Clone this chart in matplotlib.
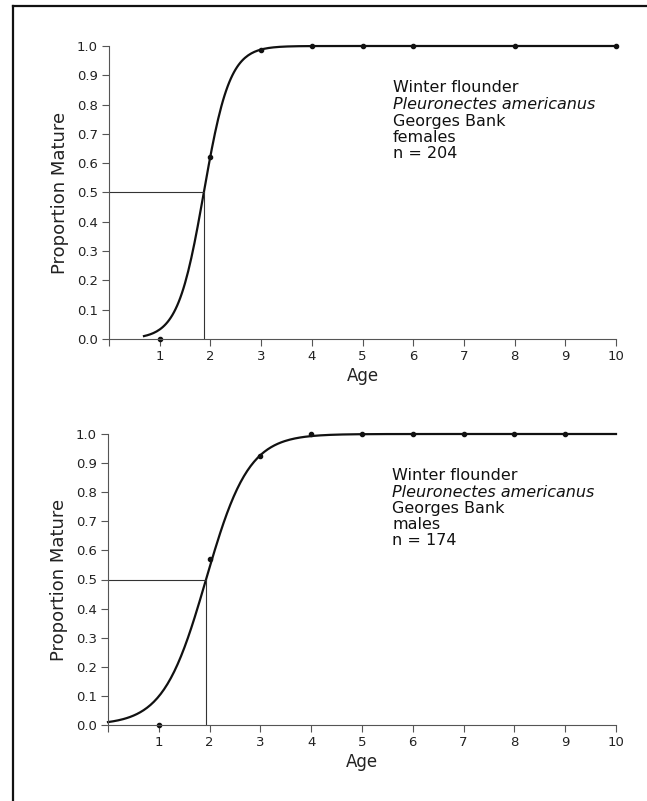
import matplotlib.pyplot as plt
import numpy as np
from matplotlib.lines import Line2D

plt.rcParams['font.family'] = ['DejaVu Sans']

# Observed proportion mature by age
ages_f = [1, 2, 3, 4, 5, 6, 8, 10]
mature_f = [0.0, 0.62, 0.985, 1.0, 1.0, 1.0, 1.0, 1.0]
ages_m = [1, 2, 3, 4, 5, 6, 7, 8, 9]
mature_m = [0.0, 0.57, 0.925, 1.0, 1.0, 1.0, 1.0, 1.0, 1.0]

# Fitted logistic: median age at maturity (A50) and slope
a50_f, slope_f, start_f = 1.87, 3.9, 0.69
a50_m, slope_m, start_m = 1.93, 2.38, 0.0

labels_f = ['Winter flounder', 'Pleuronectes americanus', 'Georges Bank', 'females', 'n = 204']
labels_m = ['Winter flounder', 'Pleuronectes americanus', 'Georges Bank', 'males', 'n = 174']

xticks = list(range(0, 11))
yticks = [round(0.1 * i, 1) for i in range(11)]

fig = plt.figure(figsize=(6.47, 8.01), dpi=100)

# frame lines around the figure (left and top only, as in the scan)
fig.add_artist(Line2D([13 / 647, 13 / 647], [0, 1 - 6 / 801], transform=fig.transFigure, color='#111111', lw=1.6))
fig.add_artist(Line2D([13 / 647, 1], [1 - 6 / 801, 1 - 6 / 801], transform=fig.transFigure, color='#111111', lw=1.6))


def panel(rect, ages, mature, a50, slope, x0, labels):
    ax = fig.add_axes(rect)
    xs = np.linspace(x0, 10, 300)
    ax.plot(xs, 1 / (1 + np.exp(-slope * (xs - a50))), color='#111111', lw=1.6, clip_on=False)
    ax.plot(ages, mature, 'o', color='#111111', ms=3, clip_on=False)
    ax.plot([0, a50], [0.5, 0.5], color='#333333', lw=0.8)
    ax.plot([a50, a50], [0, 0.5], color='#333333', lw=0.8)

    ax.set_xlim(0, 10)
    ax.set_ylim(0, 1.0)
    for s in ['top', 'right']:
        ax.spines[s].set_visible(False)
    for s in ['left', 'bottom']:
        ax.spines[s].set_color('#555555')
        ax.spines[s].set_linewidth(0.8)
    ax.set_xticks(xticks)
    ax.set_xticklabels([''] + [str(t) for t in xticks[1:]])
    ax.set_yticks(yticks)
    ax.set_yticklabels(['%.1f' % t for t in yticks])
    ax.tick_params(direction='out', length=5, width=0.8, color='#555555', labelsize=9.5, pad=3,
                   labelcolor='#222222')
    ax.set_xlabel('Age', fontsize=12, labelpad=3, color='#222222')
    ax.set_ylabel('Proportion Mature', fontsize=13, labelpad=6, color='#222222')

    ys = [0.857, 0.80, 0.744, 0.689, 0.634]
    for i, (txt, y) in enumerate(zip(labels, ys)):
        ax.text(5.6, y, txt, fontsize=11.5, va='center', ha='left',
                style='italic' if i == 1 else 'normal', color='#111111')
    return ax


panel([109 / 647, 1 - 339 / 801, 507 / 647, 293 / 801], ages_f, mature_f, a50_f, slope_f, start_f, labels_f)
panel([108 / 647, 1 - 725 / 801, 508 / 647, 291 / 801], ages_m, mature_m, a50_m, slope_m, start_m, labels_m)

plt.savefig('out.png', dpi=100)
